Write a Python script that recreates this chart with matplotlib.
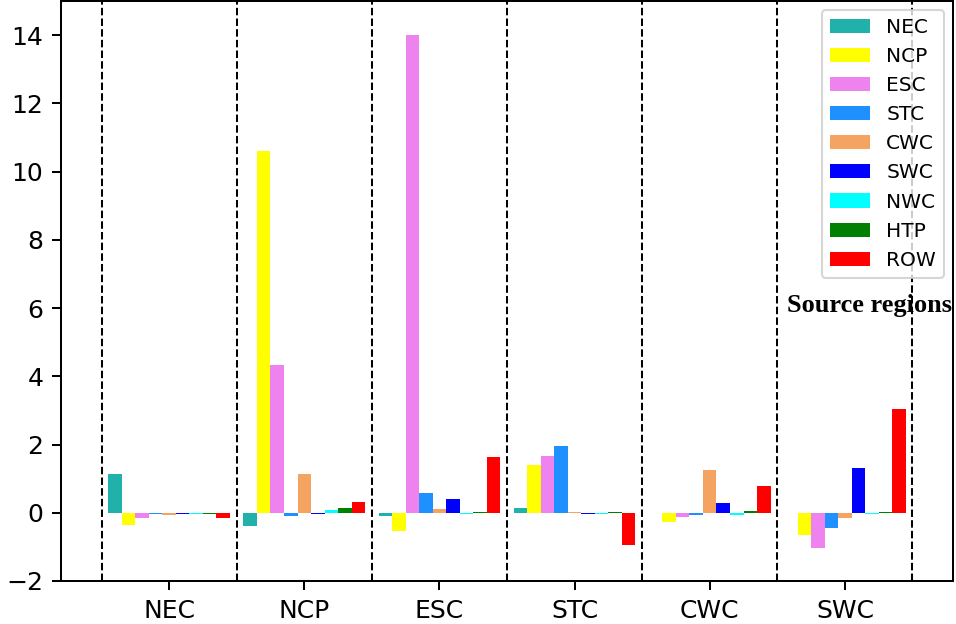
import matplotlib
matplotlib.use("Agg")
import matplotlib.pyplot as plt
import numpy as np

# receptor regions (x groups) and source regions (bars in each group)
receptors = ["NEC", "NCP", "ESC", "STC", "CWC", "SWC"]
sources = ["NEC", "NCP", "ESC", "STC", "CWC", "SWC", "NWC", "HTP", "ROW"]
colors = ["lightseagreen", "yellow", "violet", "dodgerblue", "sandybrown",
          "blue", "cyan", "green", "red"]

# one list per source region, values for NEC..SWC receptors
src_NEC = [1.14, -0.38, -0.09, 0.15, -0.02, -0.02]
src_NCP = [-0.35, 10.60, -0.53, 1.41, -0.26, -0.66]
src_ESC = [-0.14, 4.33, 14.00, 1.67, -0.12, -1.02]
src_STC = [-0.03, -0.09, 0.59, 1.96, -0.06, -0.44]
src_CWC = [-0.06, 1.14, 0.12, 0.03, 1.26, -0.15]
src_SWC = [-0.03, -0.03, 0.39, -0.03, 0.29, 1.32]
src_NWC = [-0.03, 0.09, -0.03, -0.03, -0.06, -0.03]
src_HTP = [-0.03, 0.15, 0.03, 0.03, 0.06, 0.03]
src_ROW = [-0.14, 0.32, 1.64, -0.94, 0.79, 3.04]
series = [src_NEC, src_NCP, src_ESC, src_STC, src_CWC, src_SWC,
          src_NWC, src_HTP, src_ROW]

LW = 1.45
fig = plt.figure(figsize=(9.56, 6.24), dpi=100)
ax = fig.add_axes([61 / 956, 43 / 624, 892 / 956, 580 / 624])

x = np.arange(len(receptors))
w = 0.1
for j, (name, vals, c) in enumerate(zip(sources, series, colors)):
    ax.bar(x + (j - 4) * w, vals, width=w, color=c, label=name)

for b in np.arange(-0.5, len(receptors), 1.0):
    ax.axvline(b, color="black", linestyle="--", linewidth=LW)

ax.set_xlim(-0.8, 5.8)
ax.set_ylim(-2, 15)
ax.set_yticks(range(-2, 15, 2))
ax.set_xticks(x)
ax.set_xticklabels(receptors)
ax.tick_params(labelsize=18, length=6.3, width=LW, pad=6.3)
for sp in ax.spines.values():
    sp.set_linewidth(LW)

leg = ax.legend(loc="upper right", fontsize=14.5, borderaxespad=0.45)
leg.get_frame().set_linewidth(1.5)
ax.text(0.906, 0.464, "Source regions", transform=ax.transAxes,
        ha="center", va="baseline", fontsize=19, fontweight="bold",
        family="Liberation Serif")

fig.savefig("out.png", dpi=100)
